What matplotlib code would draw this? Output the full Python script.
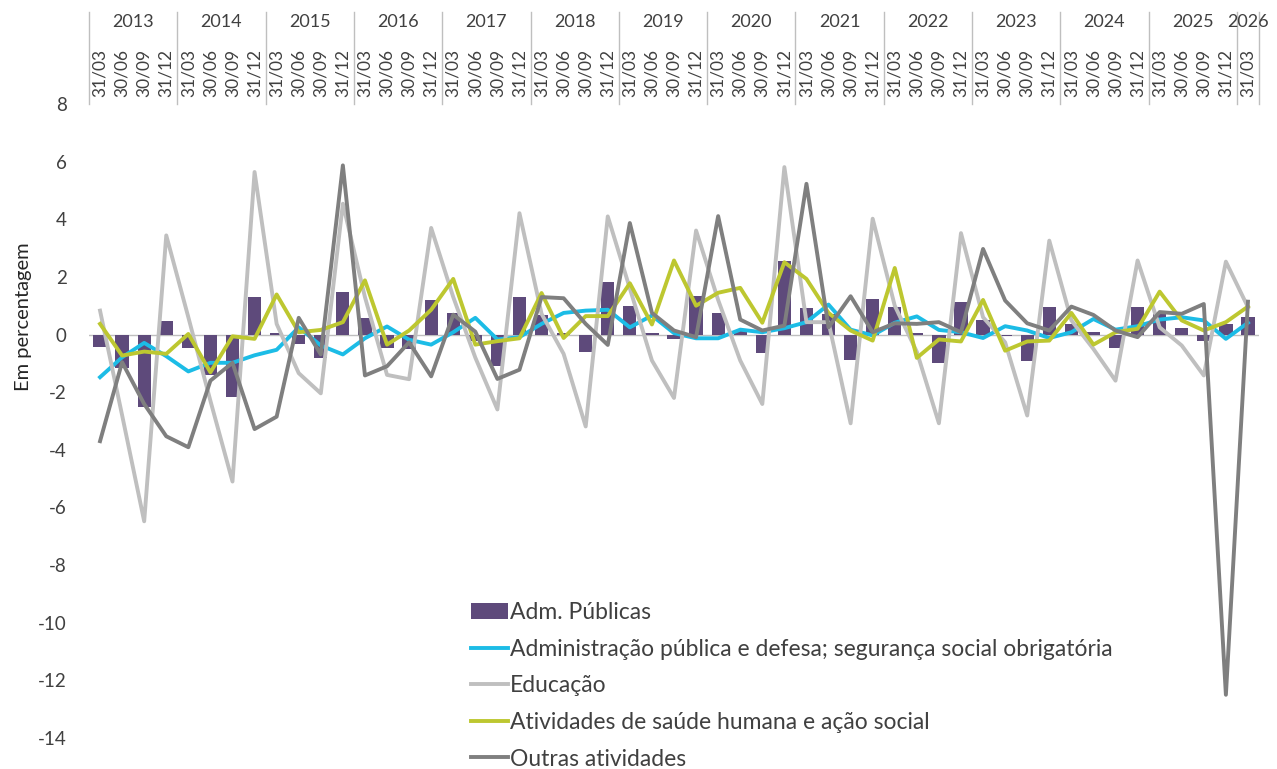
import numpy as np
import matplotlib
matplotlib.use("Agg")
import matplotlib.pyplot as plt
import matplotlib.transforms as mtransforms

plt.rcParams['font.family'] = ['Lato', 'DejaVu Sans']
plt.rcParams['axes.unicode_minus'] = False

# quarters 2013Q1 .. 2026Q1
years = list(range(2013, 2027))
quarter_names = ['31/03', '30/06', '30/09', '31/12']
dates = [q for y in years for q in quarter_names][:53]
year_of = [y for y in years for q in quarter_names][:53]

adm_publicas = [-0.44, -1.16, -2.52, 0.46, -0.47, -1.40, -2.18, 1.30, 0.06, -0.32,
                -0.81, 1.47, 0.56, -0.46, -0.50, 1.20, 0.75, -0.21, -1.08, 1.30,
                0.69, 0.05, -0.61, 1.83, 1.00, 0.06, -0.17, 1.34, 0.75, 0.14,
                -0.65, 2.55, 0.93, 0.72, -0.90, 1.24, 0.97, 0.05, -1.00, 1.12,
                0.52, -0.05, -0.93, 0.97, 0.35, 0.08, -0.47, 0.95, 0.72, 0.22,
                -0.21, 0.35, 0.61]
adm_defesa = [-1.48, -0.79, -0.29, -0.75, -1.28, -0.98, -0.98, -0.72, -0.53, 0.25,
              -0.38, -0.69, -0.13, 0.28, -0.18, -0.35, 0.08, 0.58, -0.17, -0.09,
              0.37, 0.75, 0.83, 0.86, 0.25, 0.66, 0.05, -0.13, -0.13, 0.17,
              0.08, 0.22, 0.43, 1.04, 0.17, -0.03, 0.41, 0.63, 0.16, 0.08,
              -0.12, 0.29, 0.14, -0.12, 0.08, 0.54, 0.17, 0.29, 0.52, 0.60,
              0.49, -0.15, 0.41]
educacao = [0.83, -2.80, -6.48, 3.44, 0.60, -2.30, -5.10, 5.64, 0.37, -1.34,
            -2.04, 4.54, 1.30, -1.40, -1.55, 3.70, 1.30, -0.80, -2.60, 4.21,
            0.72, -0.67, -3.19, 4.10, 1.60, -0.90, -2.20, 3.61, 1.20, -0.90,
            -2.41, 5.81, 0.43, 0.43, -3.08, 4.02, 1.00, -0.60, -3.08, 3.52,
            0.60, -0.27, -2.81, 3.26, 0.49, -0.50, -1.60, 2.57, 0.25, -0.38,
            -1.42, 2.53, 0.95]
saude = [0.37, -0.73, -0.59, -0.67, 0.02, -1.31, -0.06, -0.15, 1.39, 0.08,
         0.16, 0.43, 1.88, -0.35, 0.14, 0.86, 1.93, -0.35, -0.23, -0.13,
         1.44, -0.12, 0.64, 0.64, 1.78, 0.35, 2.57, 1.00, 1.45, 1.62,
         0.41, 2.51, 1.93, 0.75, 0.14, -0.21, 2.31, -0.81, -0.17, -0.24,
         1.20, -0.56, -0.24, -0.21, 0.75, -0.35, 0.08, 0.20, 1.49, 0.49,
         0.14, 0.43, 0.97]
outras = [-3.70, -0.96, -2.41, -3.53, -3.91, -1.60, -0.98, -3.28, -2.85, 0.58,
          -0.69, 5.87, -1.42, -1.10, -0.27, -1.45, 0.69, 0.10, -1.54, -1.22,
          1.30, 1.26, 0.37, -0.36, 3.87, 0.75, 0.14, -0.09, 4.11, 0.52,
          0.14, 0.31, 5.23, 0.25, 1.33, 0.08, 0.39, 0.37, 0.43, 0.08,
          2.97, 1.18, 0.39, 0.14, 0.97, 0.68, 0.14, -0.09, 0.78, 0.72,
          1.06, -12.50, 1.14]

x = np.arange(len(dates))

fig = plt.figure(figsize=(12.77, 7.69), dpi=100)
ax = fig.add_axes([89/1277, 1 - 738/769, (1259 - 89)/1277, (738 - 104)/769])

ax.axhline(0, color='#BFBFBF', lw=1, zorder=1)
ax.bar(x, adm_publicas, width=0.6, color='#5E4A7B', label='Adm. Públicas', zorder=2)
ax.plot(x, adm_defesa, color='#1CBCE6', lw=2.8, zorder=3,
        label='Administração pública e defesa; segurança social obrigatória')
ax.plot(x, educacao, color='#BFBFBF', lw=2.8, zorder=3, label='Educação')
ax.plot(x, saude, color='#BDC730', lw=2.8, zorder=3,
        label='Atividades de saúde humana e ação social')
ax.plot(x, outras, color='#7F7F7F', lw=2.8, zorder=3, label='Outras atividades')

ax.set_xlim(-0.5, len(dates) - 0.5)
ax.set_ylim(-14, 8)
ax.set_yticks(range(-14, 9, 2))
ax.tick_params(axis='y', length=0, labelsize=13.5, colors='#404040', pad=16)
ax.set_xticks([])
for s in ax.spines.values():
    s.set_visible(False)
ax.set_ylabel('Em percentagem', fontsize=14.5, color='#262626')
ax.yaxis.set_label_coords(32/1277, 1 - 317/769, transform=fig.transFigure)

# category labels on top
trans = mtransforms.blended_transform_factory(ax.transData, fig.transFigure)
for i, d in enumerate(dates):
    ax.text(i, 1 - 97/769, d, transform=trans, rotation=90, ha='center',
            va='bottom', fontsize=12.5, color='#404040')
bounds = [-0.5] + [i + 0.5 for i in range(len(dates)) if i == len(dates) - 1 or year_of[i + 1] != year_of[i]]
for b in bounds:
    ax.plot([b, b], [1 - 12/769, 1 - 104/769], transform=trans, color='#BFBFBF',
            lw=1, clip_on=False)
for y in years:
    idx = [i for i in range(len(dates)) if year_of[i] == y]
    ax.text((idx[0] + idx[-1]) / 2, 1 - 22/769, str(y), transform=trans,
            ha='center', va='center', fontsize=13, color='#404040')

handles, labels = ax.get_legend_handles_labels()
order = [4, 0, 1, 2, 3]
leg = ax.legend([handles[k] for k in order], [labels[k] for k in order],
                loc='upper left', bbox_to_anchor=(462/1277, 1 - 593/769),
                bbox_transform=fig.transFigure, frameon=False, fontsize=16.5,
                handlelength=1.6, handletextpad=0.1, labelspacing=0.68,
                borderaxespad=0)
for t in leg.get_texts():
    t.set_color('#404040')

fig.savefig('out.png', dpi=100)
